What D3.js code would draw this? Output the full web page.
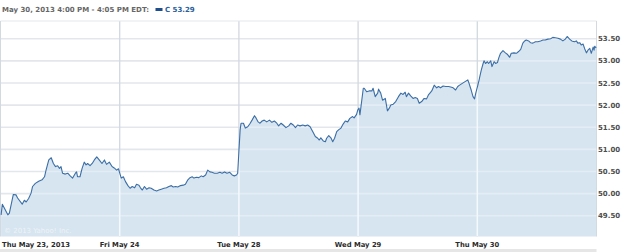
<!DOCTYPE html>
<html>
<head>
<meta charset="utf-8">
<script src="https://cdn.jsdelivr.net/npm/d3@7"></script>
<style>
  html, body { margin: 0; padding: 0; background: #fff; }
  text { font-family: "DejaVu Sans", Verdana, sans-serif; }
</style>
</head>
<body>
<svg id="chart"></svg>
<script>
// Citigroup (C) 5-day intraday, [minutes since 9:30 open, price]
const thu23 = [[2,49.52],[6,49.76],[24,49.52],[29,49.56],[42,49.98],[51,49.97],[56,49.90],[71,49.76],[78,49.85],[84,49.81],[92,49.89],[100,50.01],[105,50.16],[114,50.23],[125,50.28],[136,50.31],[144,50.38],[149,50.53],[158,50.76],[166,50.81],[173,50.68],[180,50.61],[187,50.63],[193,50.57],[198,50.61],[203,50.46],[212,50.44],[220,50.46],[228,50.40],[236,50.35],[245,50.46],[249,50.49],[252,50.38],[260,50.38],[267,50.57],[274,50.71],[280,50.65],[285,50.68],[293,50.63],[300,50.68],[307,50.76],[315,50.83],[323,50.76],[332,50.68],[340,50.76],[347,50.66],[356,50.71],[365,50.61],[372,50.58],[380,50.53],[386,50.56]];
const fri24 = [[5,50.35],[12,50.38],[19,50.27],[27,50.18],[34,50.12],[41,50.16],[49,50.13],[55,50.21],[63,50.19],[68,50.13],[74,50.08],[81,50.16],[88,50.10],[96,50.13],[103,50.12],[112,50.08],[121,50.06],[128,50.08],[136,50.10],[145,50.12],[153,50.13],[161,50.16],[169,50.18],[175,50.15],[183,50.16],[190,50.15],[199,50.18],[208,50.19],[215,50.21],[223,50.31],[230,50.36],[237,50.38],[243,50.35],[251,50.37],[259,50.36],[267,50.40],[273,50.38],[281,50.42],[288,50.53],[295,50.49],[302,50.48],[310,50.46],[319,50.46],[328,50.48],[335,50.46],[343,50.49],[351,50.46],[360,50.48],[368,50.42],[375,50.40],[382,50.42],[386,50.46]];
const tue28 = [[4,51.44],[7,51.59],[15,51.59],[21,51.48],[29,51.51],[37,51.59],[43,51.66],[51,51.76],[56,51.71],[63,51.62],[69,51.59],[76,51.64],[83,51.66],[91,51.62],[100,51.66],[108,51.61],[116,51.64],[124,51.59],[130,51.53],[138,51.59],[145,51.55],[154,51.49],[163,51.53],[170,51.59],[178,51.55],[185,51.49],[192,51.55],[200,51.53],[209,51.55],[217,51.53],[225,51.55],[233,51.51],[241,51.41],[250,51.29],[258,51.25],[263,51.21],[268,51.26],[276,51.19],[283,51.17],[287,51.25],[294,51.31],[301,51.26],[307,51.17],[313,51.25],[320,51.40],[326,51.44],[334,51.48],[341,51.57],[348,51.64],[356,51.62],[363,51.70],[372,51.74],[377,51.71],[385,51.79],[389,51.89]];
const wed29 = [[3,51.93],[6,51.78],[17,52.38],[20,52.38],[28,52.30],[36,52.32],[45,52.32],[49,52.38],[56,52.19],[64,52.27],[67,52.36],[74,52.27],[80,52.11],[89,52.15],[96,51.87],[102,51.93],[107,52.00],[115,52.02],[123,52.08],[132,52.19],[140,52.27],[147,52.24],[154,52.29],[158,52.19],[165,52.27],[172,52.21],[180,52.15],[187,52.17],[194,52.15],[200,52.04],[208,52.08],[216,52.15],[224,52.14],[230,52.23],[235,52.27],[241,52.32],[249,52.45],[257,52.39],[263,52.42],[270,52.39],[278,52.43],[287,52.42],[296,52.42],[303,52.41],[311,52.39],[319,52.34],[326,52.42],[332,52.45],[341,52.49],[350,52.53],[359,52.57],[363,52.49],[370,52.34],[376,52.19],[381,52.14],[385,52.27]];
const thu30 = [[1,52.43],[6,52.57],[8,52.64],[13,52.79],[19,52.94],[22,53.00],[27,52.94],[33,52.98],[37,52.94],[44,53.00],[48,52.87],[55,52.98],[60,52.94],[66,52.96],[70,53.06],[76,53.17],[84,53.23],[92,53.18],[98,53.15],[106,53.08],[111,53.17],[120,53.18],[128,53.17],[135,53.21],[142,53.26],[149,53.40],[155,53.45],[160,53.47],[168,53.45],[174,53.41],[182,53.40],[190,53.43],[198,53.43],[207,53.45],[215,53.47],[222,53.47],[231,53.49],[240,53.50],[247,53.53],[255,53.52],[264,53.51],[272,53.49],[280,53.45],[288,53.49],[294,53.55],[302,53.49],[309,53.45],[318,53.43],[324,53.45],[329,53.40],[335,53.41],[340,53.36],[346,53.38],[351,53.28],[357,53.18],[362,53.24],[368,53.28],[373,53.17],[379,53.31],[382,53.24],[384,53.33],[389,53.29]];

const days = [thu23, fri24, tue28, wed29, thu30];
const dayLabels = ["Thu May 23, 2013", "Fri May 24", "Tue May 28", "Wed May 29", "Thu May 30"];
const yTicks = [49.5, 50.0, 50.5, 51.0, 51.5, 52.0, 52.5, 53.0, 53.5];
const headerText = "May 30, 2013 4:00 PM - 4:05 PM EDT:";
const symbol = "C";
const lastPrice = 53.29;

const width = 625, height = 252;
const sessionMin = 390;
const plot = { left: 0.5, right: 596.5, top: 21, bottom: 236.5 };

const svg = d3.select("#chart")
    .attr("width", width)
    .attr("height", height)
    .attr("viewBox", `0 0 ${width} ${height}`);

const x = d3.scaleLinear()
    .domain([0, days.length * sessionMin])
    .range([plot.left, plot.right]);

const y = d3.scaleLinear()
    .domain([49.5, 53.5])
    .range([215.7, 38.7]);

// flatten into one continuous series
const series = [];
days.forEach((pts, i) => {
    pts.forEach(p => series.push({ t: i * sessionMin + p[0], v: p[1] }));
});

const dayEdges = d3.range(1, days.length).map(i => i * sessionMin);

// bottom strip
svg.append("rect")
    .attr("x", 0).attr("y", 249)
    .attr("width", plot.right).attr("height", 3)
    .attr("fill", "#e6e6e6");

// grid below the fill
const gridBack = svg.append("g");
gridBack.selectAll("line.h")
    .data(yTicks)
    .join("line")
    .attr("x1", plot.left).attr("x2", plot.right)
    .attr("y1", d => y(d)).attr("y2", d => y(d))
    .attr("stroke", "#e3e7eb")
    .attr("stroke-width", 1.6);
gridBack.selectAll("line.v")
    .data(dayEdges)
    .join("line")
    .attr("x1", d => x(d)).attr("x2", d => x(d))
    .attr("y1", plot.top).attr("y2", plot.bottom)
    .attr("stroke", "#d2d9e1")
    .attr("stroke-width", 1.3);

// plot frame
svg.append("line")
    .attr("x1", plot.left).attr("x2", plot.right)
    .attr("y1", plot.top).attr("y2", plot.top)
    .attr("stroke", "#e3e7eb").attr("stroke-width", 1.2);
svg.append("line")
    .attr("x1", plot.left).attr("x2", plot.left)
    .attr("y1", plot.top).attr("y2", plot.bottom)
    .attr("stroke", "#d2d9e1").attr("stroke-width", 1);
svg.append("line")
    .attr("x1", plot.right).attr("x2", plot.right)
    .attr("y1", plot.top).attr("y2", plot.bottom)
    .attr("stroke", "#d2d9e1").attr("stroke-width", 1);

const area = d3.area()
    .x(d => x(d.t))
    .y0(plot.bottom)
    .y1(d => y(d.v));

const line = d3.line()
    .x(d => x(d.t))
    .y(d => y(d.v));

svg.append("clipPath").attr("id", "area-clip")
    .append("path").attr("d", area(series));

svg.append("path")
    .datum(series)
    .attr("d", area)
    .attr("fill", "#d6e5f0");

// grid over the fill (lighter)
const gridFront = svg.append("g").attr("clip-path", "url(#area-clip)");
gridFront.selectAll("line.h")
    .data(yTicks)
    .join("line")
    .attr("x1", plot.left).attr("x2", plot.right)
    .attr("y1", d => y(d)).attr("y2", d => y(d))
    .attr("stroke", "#e4edf5")
    .attr("stroke-width", 1.6);
gridFront.selectAll("line.v")
    .data(dayEdges)
    .join("line")
    .attr("x1", d => x(d)).attr("x2", d => x(d))
    .attr("y1", plot.top).attr("y2", plot.bottom)
    .attr("stroke", "#f6f9fc")
    .attr("stroke-width", 1.5);

svg.append("path")
    .datum(series)
    .attr("d", line)
    .attr("fill", "none")
    .attr("stroke", "#3c6ea6")
    .attr("stroke-width", 1.1)
    .attr("stroke-linejoin", "round");

// y axis labels on the right
svg.append("g").selectAll("text")
    .data(yTicks)
    .join("text")
    .attr("x", 598)
    .attr("y", d => y(d) + 2.6)
    .attr("font-size", 7)
    .attr("font-weight", "bold")
    .attr("fill", "#4d4d4d")
    .text(d => d3.format(".2f")(d));

// day labels
svg.append("g").selectAll("text")
    .data(dayLabels)
    .join("text")
    .attr("x", (d, i) => i === 0 ? 2 : x(i * sessionMin))
    .attr("y", 247)
    .attr("text-anchor", (d, i) => i === 0 ? "start" : "middle")
    .attr("font-size", 6.8)
    .attr("font-weight", "bold")
    .attr("fill", "#2b2b2b")
    .text(d => d);

// copyright
svg.append("text")
    .attr("x", 4).attr("y", 233)
    .attr("font-size", 7)
    .attr("fill", "#eef3f8")
    .text("\u00a9 2013 Yahoo! Inc.");

// header
const header = svg.append("g");
header.append("text")
    .attr("x", 2).attr("y", 12)
    .attr("font-size", 7)
    .attr("font-weight", "bold")
    .attr("fill", "#666")
    .text(headerText);
header.append("rect")
    .attr("x", 155.5).attr("y", 8)
    .attr("width", 7).attr("height", 3)
    .attr("fill", "#1f4e8c");
header.append("text")
    .attr("x", 165).attr("y", 12)
    .attr("font-size", 7)
    .attr("font-weight", "bold")
    .attr("fill", "#2a5d9a")
    .text(`${symbol} ${lastPrice.toFixed(2)}`);
</script>
</body>
</html>
